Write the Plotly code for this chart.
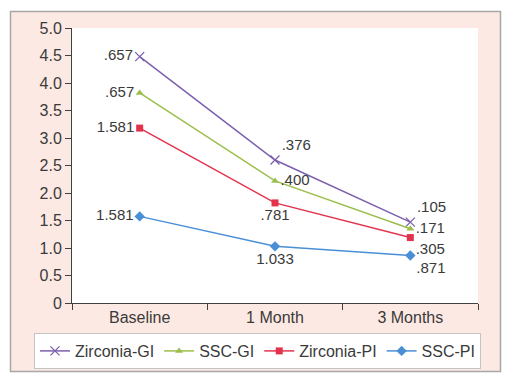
import plotly.graph_objects as go

categories = ["Baseline", "1 Month", "3 Months"]

series_names = ["Zirconia-GI", "SSC-GI", "Zirconia-PI", "SSC-PI"]
zirconia_gi = [4.48, 2.60, 1.47]
ssc_gi = [3.82, 2.22, 1.35]
zirconia_pi = [3.18, 1.82, 1.19]
ssc_pi = [1.575, 1.03, 0.865]

zirconia_gi_labels = [".657", ".376", ".105"]
ssc_gi_labels = [".657", ".400", ".171"]
zirconia_pi_labels = ["1.581", ".781", ".305"]
ssc_pi_labels = ["1.581", "1.033", ".871"]

y_tick_vals = [0, 0.5, 1.0, 1.5, 2.0, 2.5, 3.0, 3.5, 4.0, 4.5, 5.0]
y_tick_text = ["0", "0.5", "1.0", "1.5", "2.0", "2.5", "3.0", "3.5", "4.0", "4.5", "5.0"]

colors = ["#7b5fb0", "#9bbf4c", "#e3334c", "#4a8fd6"]
symbols = ["x-thin-open", "triangle-up", "square", "diamond"]
sizes = [9, 7, 7, 8]
positions = [
    ["middle left", "top right", "top right"],
    ["middle left", "middle right", "middle right"],
    ["middle left", "bottom center", "bottom right"],
    ["middle left", "bottom center", "bottom right"],
]
values = [zirconia_gi, ssc_gi, zirconia_pi, ssc_pi]
labels = [zirconia_gi_labels, ssc_gi_labels, zirconia_pi_labels, ssc_pi_labels]

FONT = "Liberation Sans, Arial, sans-serif"
TXT = "#3a3a3a"

fig = go.Figure()
for name, vals, labs, col, sym, sz, pos in zip(series_names, values, labels, colors, symbols, sizes, positions):
    fig.add_trace(go.Scatter(
        x=categories, y=vals, name=name,
        mode="lines+markers+text",
        text=labs, textposition=pos,
        textfont=dict(family=FONT, size=15, color=TXT),
        line=dict(color=col, width=1.5),
        marker=dict(symbol=sym, size=sz, color=col,
                    line=dict(color=col, width=1.3 if sym == "x-thin-open" else 0)),
        cliponaxis=False,
    ))

L, R, T, B = 72, 30, 28, 75
W, H = 508, 378
pw, ph = W - L - R, H - T - B

def px_x(p):
    return (p - L) / pw

def px_y(p):
    return (H - B - p) / ph

fig.add_shape(type="rect", xref="paper", yref="paper",
              x0=px_x(10.5), x1=px_x(500.5), y0=px_y(371.5), y1=px_y(11.5),
              fillcolor="#fde9e3", line=dict(color="#a8a8a8", width=1.5), layer="below")
fig.add_shape(type="rect", xref="paper", yref="paper",
              x0=0, x1=1, y0=0, y1=1,
              fillcolor="#ffffff", line=dict(width=0), layer="below")

fig.update_layout(
    width=W, height=H,
    margin=dict(l=L, r=R, t=T, b=B, autoexpand=False),
    paper_bgcolor="#ffffff",
    plot_bgcolor="rgba(0,0,0,0)",
    font=dict(family=FONT, size=16, color=TXT),
    showlegend=True,
    legend=dict(orientation="h",
                x=px_x(34), xanchor="left",
                y=px_y(333), yanchor="top",
                bgcolor="#ffffff", bordercolor="#c4c4c4", borderwidth=1,
                font=dict(family=FONT, size=16, color=TXT),
                itemwidth=30, tracegroupgap=0),
    xaxis=dict(
        type="category", range=[-0.5, 2.5],
        showline=True, linecolor="#404040", linewidth=1,
        ticks="outside", ticklen=6, tickcolor="#404040",
        tickson="boundaries", showgrid=False, zeroline=False,
        tickfont=dict(family=FONT, size=16, color=TXT),
        fixedrange=True,
    ),
    yaxis=dict(
        range=[0, 5], tickvals=y_tick_vals, ticktext=y_tick_text,
        showline=True, linecolor="#404040", linewidth=1,
        ticks="outside", ticklen=6, tickcolor="#404040",
        showgrid=False, zeroline=False,
        tickfont=dict(family=FONT, size=16, color=TXT),
        fixedrange=True,
    ),
)

fig.write_html("out.html", config={"displayModeBar": False},
               post_script="document.body.style.margin='0px';")
